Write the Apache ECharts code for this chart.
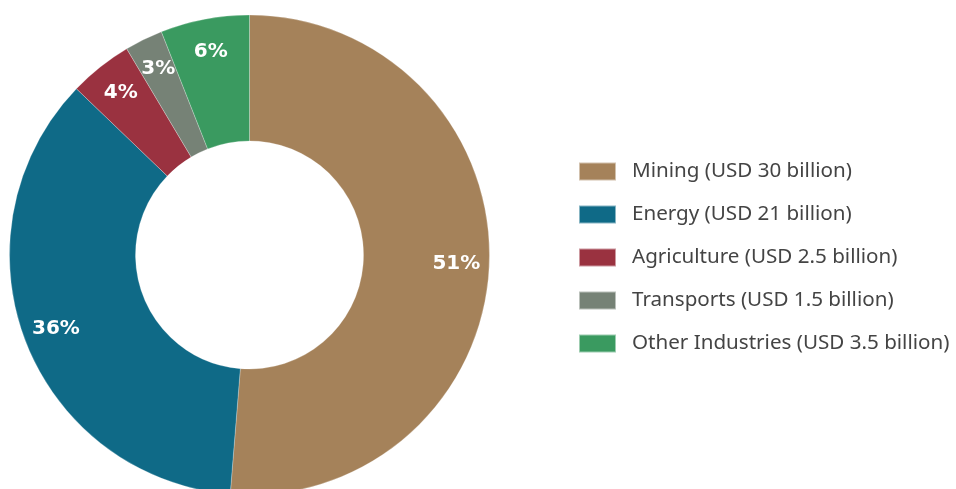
<!DOCTYPE html>
<html>
<head>
<meta charset="utf-8">
<script src="https://cdn.jsdelivr.net/npm/echarts@6/dist/echarts.min.js"></script>
<style>
  html, body { margin: 0; padding: 0; background: #fff; }
  #chart { width: 956px; height: 489px; }
</style>
</head>
<body>
<div id="chart"></div>
<script>
// sectors, values in USD billion
const sectors = ['Mining', 'Energy', 'Agriculture', 'Transports', 'Other Industries']
const values = [30, 21, 2.5, 1.5, 3.5]
const colors = ['#a5825a', '#0f6a87', '#9a3240', '#768276', '#3a9a60']

const chart = echarts.init(document.getElementById('chart'))

const total = values.reduce((a, b) => a + b, 0)
const pieData = sectors.map((name, i) => {
  return { name: name, value: values[i], itemStyle: { color: colors[i] } }
})

chart.setOption({
  animation: false,
  legend: {
    orient: 'vertical',
    left: 573,
    top: 156,
    icon: 'rect',
    itemWidth: 37,
    itemHeight: 18,
    itemGap: 22,
    data: sectors,
    formatter: function(name) {
      let i = sectors.indexOf(name)
      return name + ' (USD ' + values[i] + ' billion)'
    },
    textStyle: {
      fontFamily: 'Noto Sans',
      fontSize: 20.6,
      color: '#444',
      lineHeight: 20,
      padding: [0, 0, 0, 11]
    }
  },
  series: [
    {
      type: 'pie',
      center: [249.5, 255],
      radius: [114, 240],
      startAngle: 90,
      clockwise: true,
      silent: true,
      label: { show: false },
      labelLine: { show: false },
      itemStyle: { borderColor: 'rgba(255,255,255,0.5)', borderWidth: 0.5 },
      data: pieData
    },
    {
      // label ring, transparent
      type: 'pie',
      center: [249.5, 255],
      radius: [168, 240],
      startAngle: 90,
      clockwise: true,
      silent: true,
      legendHoverLink: false,
      itemStyle: { color: 'rgba(0,0,0,0)' },
      label: {
        show: true,
        position: 'inside',
        color: '#fff',
        fontFamily: 'DejaVu Sans',
        fontWeight: 'bold',
        fontSize: 20,
        formatter: function(p) {
          return Math.round(p.value / total * 100) + '%'
        }
      },
      labelLine: { show: false },
      data: sectors.map((name, i) => ({ name: name, value: values[i] }))
    }
  ]
})
</script>
</body>
</html>
